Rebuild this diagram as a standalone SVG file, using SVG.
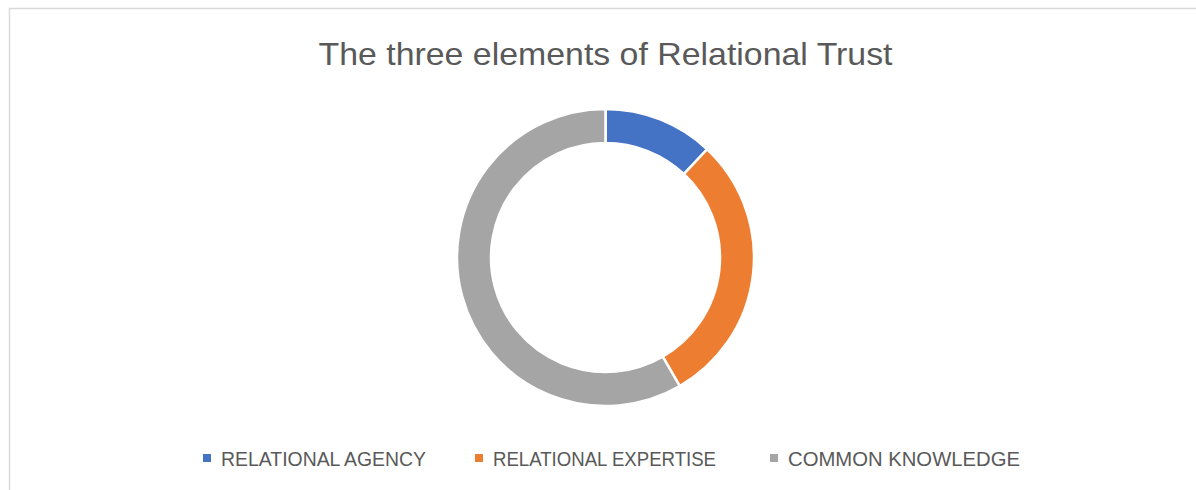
<svg xmlns="http://www.w3.org/2000/svg" width="1196" height="490" viewBox="0 0 1196 490">
<style>
.seg{stroke:#ffffff;stroke-width:2.5;stroke-linejoin:miter}
.txt{font-family:"Liberation Sans",Arial,sans-serif;fill:#595959}
.leg{font-size:20px}
</style>
<rect x="0" y="0" width="1196" height="490" fill="#ffffff"/>
<rect x="9.5" y="8.5" width="1200" height="500" fill="#ffffff" stroke="#d9d9d9" stroke-width="1.5"/>
<text class="txt" x="605.5" y="65" font-size="32" text-anchor="middle" textLength="574" lengthAdjust="spacingAndGlyphs">The three elements of Relational Trust</text>
<g id="chart">
<g id="agency"><path class="seg" fill="#4472c4" d="M605.5,109 A148.5,148.5 0 0 1 707.15,149.24 L683.88,174.03 A114.5,114.5 0 0 0 605.5,143 Z"/></g>
<g id="expertise"><path class="seg" fill="#ed7d31" d="M707.15,149.24 A148.5,148.5 0 0 1 679.75,386.1 L662.75,356.66 A114.5,114.5 0 0 0 683.88,174.03 Z"/></g>
<g id="common"><path class="seg" fill="#a5a5a5" d="M679.75,386.1 A148.5,148.5 0 1 1 605.5,109 L605.5,143 A114.5,114.5 0 1 0 662.75,356.66 Z"/></g>
</g>
<g id="legend">
<g id="leg-agency"><rect x="203" y="454" width="8" height="8" fill="#4472c4"/><text class="txt leg" x="221" y="466" textLength="205" lengthAdjust="spacingAndGlyphs">RELATIONAL AGENCY</text></g>
<g id="leg-expertise"><rect x="475" y="454" width="8" height="8" fill="#ed7d31"/><text class="txt leg" x="493" y="466" textLength="223" lengthAdjust="spacingAndGlyphs">RELATIONAL EXPERTISE</text></g>
<g id="leg-common"><rect x="770" y="454" width="8" height="8" fill="#a5a5a5"/><text class="txt leg" x="788" y="466" textLength="232" lengthAdjust="spacingAndGlyphs">COMMON KNOWLEDGE</text></g>
</g>
</svg>
